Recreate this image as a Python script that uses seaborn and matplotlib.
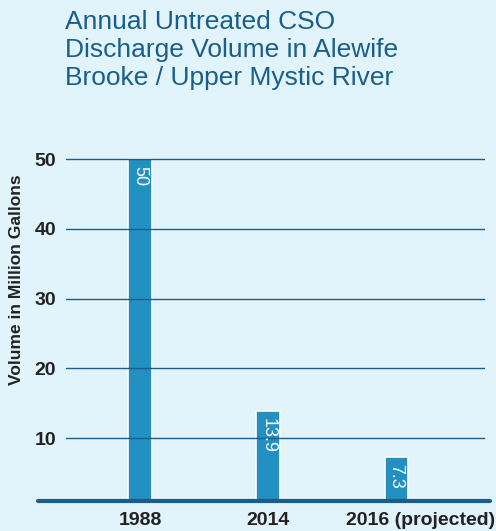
import matplotlib
matplotlib.use("Agg")
import matplotlib.pyplot as plt
import matplotlib.transforms as mtransforms
import seaborn as sns
import pandas as pd

years = ["1988", "2014", "2016 (projected)"]
volumes = [50, 13.9, 7.3]
value_labels = ["50", "13.9", "7.3"]
yticks = [10, 20, 30, 40, 50]

bg = "#e1f3fb"
bar_color = "#2290c0"
dark = "#1c5c88"

sns.set_theme(style="white")
plt.rcParams["font.family"] = ["Liberation Sans", "DejaVu Sans"]

df = pd.DataFrame({"year": years, "volume": volumes})

fig = plt.figure(figsize=(4.96, 5.31), dpi=100, facecolor=bg)
ax = fig.add_axes([66 / 496, 1 - 501 / 531, 419 / 496, (501 - 150) / 531])
ax.set_facecolor(bg)

sns.barplot(data=df, x="year", y="volume", color=bar_color, saturation=1,
            width=0.18, edgecolor="white", linewidth=1.2, ax=ax, zorder=2)

ax.set_xlim(-0.578, 2.695)
ax.set_ylim(1.0, 51.3)
ax.set_yticks(yticks)
for y in yticks:
    ax.axhline(y, color=dark, lw=1, zorder=3)

for s in ax.spines.values():
    s.set_visible(False)
ax.axhline(1.0, xmin=-0.067, xmax=1.012, color=dark, lw=3, clip_on=False, zorder=4)

ax.tick_params(axis="both", length=0, labelsize=14, colors="#222222")
ax.tick_params(axis="y", pad=7)
ax.tick_params(axis="x", pad=8)
for lab in ax.get_yticklabels() + ax.get_xticklabels():
    lab.set_fontweight("bold")
xl = ax.get_xticklabels()
xl[2].set_transform(xl[2].get_transform() +
                    mtransforms.ScaledTranslation(25 / 100, 0, fig.dpi_scale_trans))

ax.set_xlabel("")
ax.set_ylabel("Volume in Million Gallons", fontsize=12.5, fontweight="bold",
              color="#222222")
ax.yaxis.set_label_coords(-0.1, 0.63)

for i, (v, t) in enumerate(zip(volumes, value_labels)):
    ax.text(i, v - 1.0, t, rotation=-90, ha="center", va="top", color="white",
            fontsize=13, zorder=5)

fig.text(65 / 496, 1 - 10 / 531,
         "Annual Untreated CSO\nDischarge Volume in Alewife\nBrooke / Upper Mystic River",
         ha="left", va="top", fontsize=19, color="#1a5e8c", linespacing=1.22)

fig.savefig("out.png", dpi=100, facecolor=bg)
